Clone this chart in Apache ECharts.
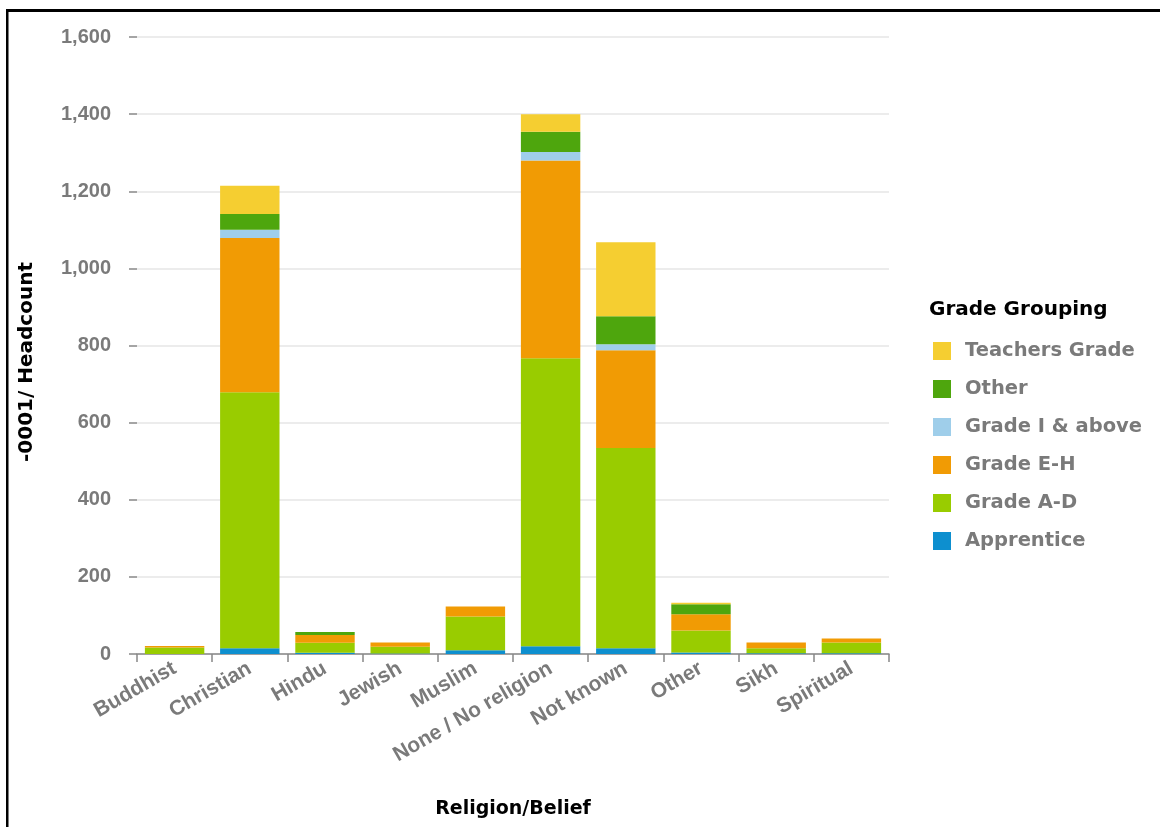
<!DOCTYPE html>
<html><head><meta charset="utf-8">
<script src="https://cdn.jsdelivr.net/npm/echarts@6/dist/echarts.min.js"></script>
<style>html,body{margin:0;padding:0;background:#fff}#c{width:1160px;height:827px}</style>
</head><body><div id="c"></div>
<script>
const categories = ['Buddhist','Christian','Hindu','Jewish','Muslim','None / No religion','Not known','Other','Sikh','Spiritual'];
const apprentice = [0, 15, 3, 1, 10, 20, 15, 4, 2, 2];
const gradeAD    = [17, 664, 26, 18, 87, 747, 519, 57, 13, 28];
const gradeEH    = [4, 400, 20, 11, 26, 513, 254, 42, 15, 10];
const gradeI     = [0, 21, 0, 0, 0, 22, 15, 0, 0, 0];
const otherGrade = [0, 41, 8, 0, 0, 52, 73, 26, 0, 0];
const teachers   = [0, 73, 0, 0, 0, 46, 192, 4, 0, 0];
const yTicks = [0, 200, 400, 600, 800, 1000, 1200, 1400, 1600];
const legendOrder = ['Teachers Grade','Other','Grade I & above','Grade E-H','Grade A-D','Apprentice'];

const seriesDefs = [
  {name:'Apprentice', data:apprentice, color:'#0D8FCF'},
  {name:'Grade A-D', data:gradeAD, color:'#99CC00'},
  {name:'Grade E-H', data:gradeEH, color:'#F19B04'},
  {name:'Grade I & above', data:gradeI, color:'#9FCEEA'},
  {name:'Other', data:otherGrade, color:'#4EA60D'},
  {name:'Teachers Grade', data:teachers, color:'#F5CE31'}
];

const chart = echarts.init(document.getElementById('c'), null, {renderer:'canvas'});
chart.setOption({
  animation:false,
  backgroundColor:'#fff',
  grid:{left:137, right:271, top:37, bottom:173, containLabel:false},
  legend:{
    data:legendOrder, orient:'vertical', left:928, top:336,
    itemWidth:18, itemHeight:18, itemGap:18, icon:'rect',
    textStyle:{fontFamily:'DejaVu Sans', fontWeight:'bold', fontSize:19.5, color:'#7a7a7a', padding:[0,0,0,9]},
    selectedMode:false
  },
  xAxis:{
    type:'category', data:categories,
    axisLine:{lineStyle:{color:'#888', width:1.5}},
    axisTick:{show:true, length:8, lineStyle:{color:'#888', width:1.5}},
    axisLabel:{rotate:30, margin:13, interval:0, fontFamily:'Liberation Sans', fontWeight:'bold', fontSize:21, color:'#7a7a7a'},
    name:'Religion/Belief', nameLocation:'middle', nameGap:146,
    nameTextStyle:{fontFamily:'DejaVu Sans', fontWeight:'bold', fontSize:19, color:'#000'}
  },
  yAxis:{
    type:'value', min:0, max:1600, interval:200,
    axisLine:{show:false},
    axisTick:{show:true, length:8, lineStyle:{color:'#888', width:1.5}},
    axisLabel:{margin:26, formatter:v=>v.toLocaleString('en-US'), fontFamily:'Liberation Sans', fontWeight:'bold', fontSize:20, color:'#7a7a7a'},
    splitLine:{lineStyle:{color:'#e6e6e6', width:1.5}}
  },
  series: seriesDefs.map(s=>({
    name:s.name, type:'bar', stack:'total', data:s.data, barWidth:'79%',
    itemStyle:{color:s.color}, emphasis:{disabled:true}
  })),
  graphic:[
    {type:'rect', shape:{x:6, y:9, width:1154, height:3}, style:{fill:'#000'}},
    {type:'rect', shape:{x:6, y:9, width:2.5, height:818}, style:{fill:'#000'}},
    {type:'text', x:929, y:310, style:{text:'Grade Grouping', fill:'#000', font:'bold 20px "DejaVu Sans"', textVerticalAlign:'middle', textAlign:'left'}},
    {type:'text', x:27, y:362, rotation:Math.PI/2, style:{text:'-0001/ Headcount', fill:'#000', font:'bold 20px "DejaVu Sans"', textVerticalAlign:'middle', textAlign:'center'}}
  ]
});
</script></body></html>
